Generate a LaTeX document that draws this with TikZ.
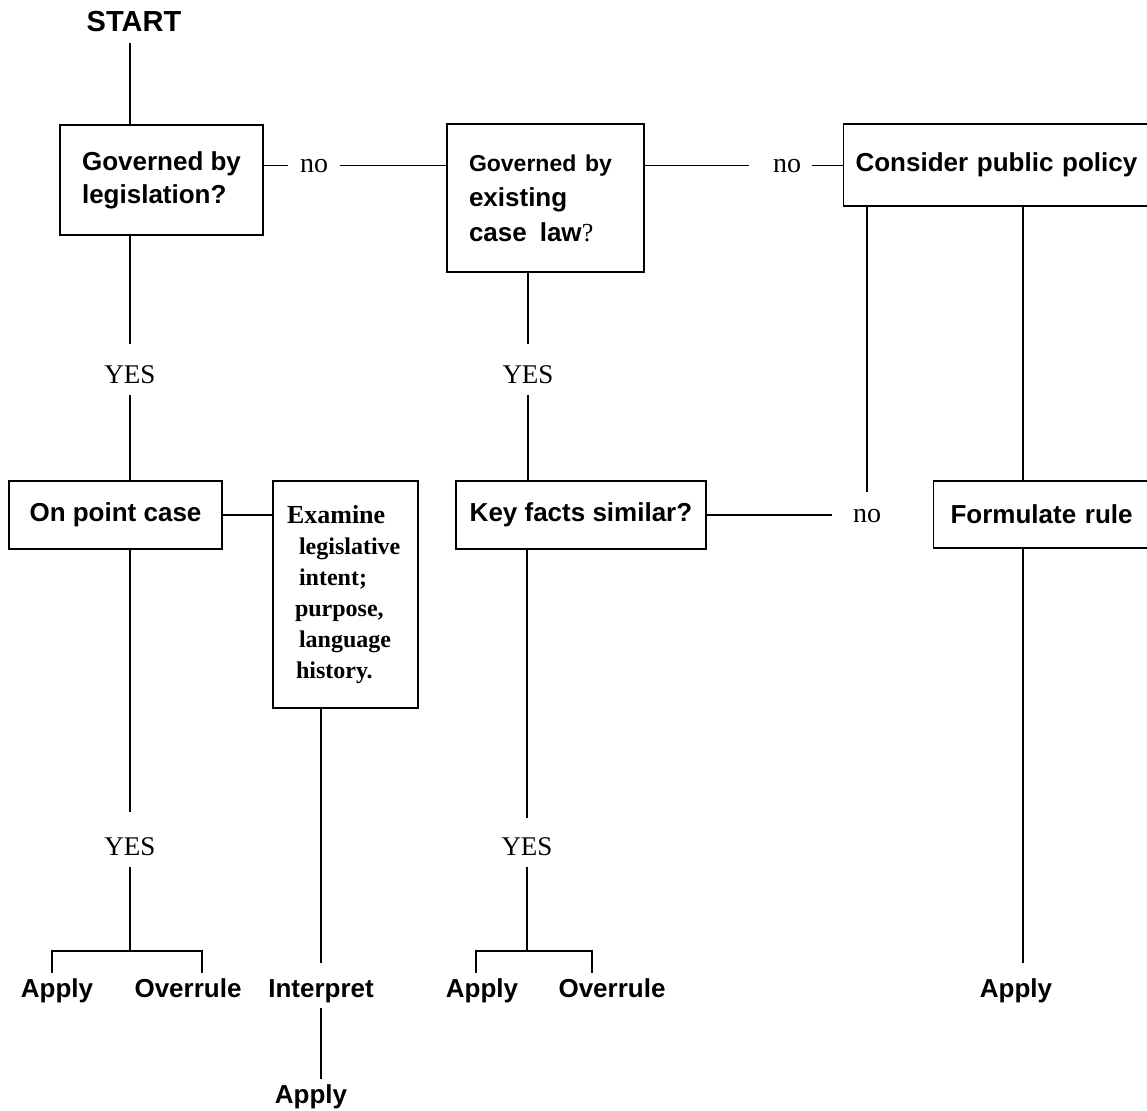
\documentclass[tikz,border=0pt]{standalone}
\usepackage{fontspec}
\setmainfont{Liberation Serif}
\setsansfont{Liberation Sans}
\begin{document}
\begin{tikzpicture}
                [x=1pt,y=-1pt,line width=1.1pt,
                 box/.style={draw,rectangle,inner sep=0pt,font=\sffamily\bfseries\fontsize{26}{33}\selectfont},
                 word/.style={anchor=base,inner sep=5pt,font=\sffamily\bfseries\fontsize{26}{26}\selectfont},
                 yes/.style={inner xsep=4pt,inner ysep=10pt,font=\fontsize{27}{27}\selectfont},
                 no/.style={anchor=base,inner xsep=11pt,inner ysep=4pt,font=\fontsize{28}{28}\selectfont}]
                \useasboundingbox (0,0) rectangle (1147,1110);

                \node[word,inner sep=10pt,font=\sffamily\bfseries\fontsize{29}{29}\selectfont] (start) at (134,32) {START};
                \node[box,minimum width=203,minimum height=110,align=left] (gov) at (161.5,180) {Governed by\\legislation?};
                \node[no] (no1) at (314,172) {no};
                \node[box,minimum width=197,minimum height=148,text width=153,align=left,
                      font=\sffamily\bfseries\fontsize{26}{35}\selectfont] (cl) at (545.5,198)
                      {{\fontsize{23}{35}\selectfont Governed by}\\existing\\case\ \,law{\rmfamily\mdseries ?}};
                \node[no,inner xsep=10pt] (no2) at (787,172) {no};
                \node[box,anchor=west,inner xsep=12pt,text width=300,minimum height=82,align=left] (pol) at (843,165) {Consider public policy};

                \node[yes] (yesA) at (130,375) {YES};
                \node[yes] (yesB) at (528,375) {YES};

                \node[box,minimum width=213,minimum height=68] (onpt) at (115.5,515) {On point case};
                \node[box,minimum width=145,minimum height=227,text width=117,align=left,
                      font=\rmfamily\bfseries\fontsize{24}{31}\selectfont] (exam) at (345.5,594.5)
                      {{\fontsize{26}{31}\selectfont Examine}\\
                       \hspace*{12pt}legislative\\
                       \hspace*{12pt}intent;\\
                       \hspace*{8pt}purpose,\\
                       \hspace*{12pt}language\\
                       \hspace*{9pt}history.};
                \node[box,minimum width=250,minimum height=68] (key) at (581,515) {Key facts similar?};
                \node[no,inner xsep=20pt,inner ysep=16pt] (no3) at (867,522) {no};
                \node[box,anchor=west,inner xsep=17pt,text width=200,minimum height=67,align=left] (form) at (933,514.5) {Formulate rule};

                \node[yes] (yesC) at (130,847) {YES};
                \node[yes] (yesD) at (527,847) {YES};

                \coordinate (forkA) at (130,951);
                \coordinate (forkAl) at (52,951);
                \coordinate (forkAr) at (202,951);
                \coordinate (forkB) at (527,951);
                \coordinate (forkBl) at (476,951);
                \coordinate (forkBr) at (592,951);
                \coordinate (rcol) at (1023,963);

                \node[word] (applyA) at (57,997) {Apply};
                \node[word] (overA) at (188,997) {Overrule};
                \node[word] (interp) at (321,997) {Interpret};
                \node[word] (applyB) at (482,997) {Apply};
                \node[word] (overB) at (612,997) {Overrule};
                \node[word] (applyC) at (1016,997) {Apply};
                \node[word] (applyE) at (311,1103) {Apply};

                \draw (start.south -| yesA) -- (yesA |- gov.north);
                \draw[shorten >=11pt] (gov.south -| yesA) -- (yesA.north);
                \draw (yesA.south) -- (yesA |- onpt.north);
                \draw[shorten >=15pt] (onpt.south -| yesC) -- (yesC.north);
                \draw (yesC.south) -- (forkA);
                \draw (applyA.north -| forkAl) -- (forkAl) -- (forkAr) -- (overA.north -| forkAr);

                \draw (gov.east |- no1) -- (no1.west);
                \draw (no1.east) -- (no1.east -| cl.west);
                \draw[shorten >=13pt] (cl.east |- no2) -- (no2.west);
                \draw (no2.east) -- (no2.east -| pol.west);

                \draw (onpt.east) -- (onpt.east -| exam.west);
                \draw[shorten >=11pt] (exam.south -| interp) -- (interp.north);
                \draw (interp.south) -- (interp.south |- applyE.north);

                \draw[shorten >=11pt] (cl.south -| yesB) -- (yesB.north);
                \draw (yesB.south) -- (yesB |- key.north);
                \draw[shorten >=9pt] (key.south -| yesD) -- (yesD.north);
                \draw (yesD.south) -- (forkB);
                \draw (applyB.north -| forkBl) -- (forkBl) -- (forkBr) -- (overB.north -| forkBr);
                \draw (key.east) -- (key.east -| no3.west);

                \draw (pol.south -| no3) -- (no3.north);
                \draw (pol.south -| rcol) -- (form.north -| rcol);
                \draw (form.south -| rcol) -- (rcol);
            \end{tikzpicture}
\end{document}
